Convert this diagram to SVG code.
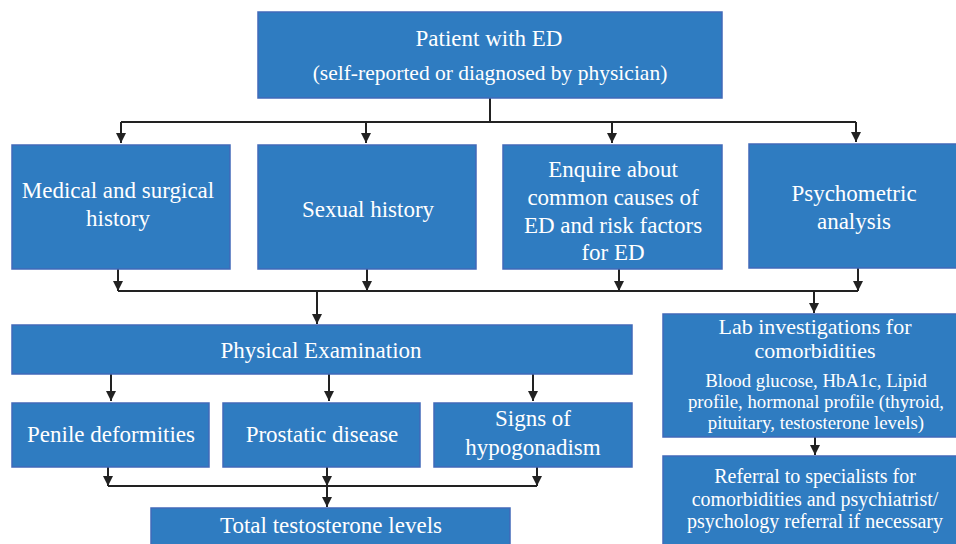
<svg xmlns="http://www.w3.org/2000/svg" width="956" height="544" viewBox="0 0 956 544" font-family="Liberation Serif, Times New Roman, serif">
<style>
.box{fill:#2f7cc1;stroke:#4169b9;stroke-width:1.5}
.t{fill:#ffffff;text-anchor:middle}
.l{font-size:23px}
.k{font-size:22px}
.m{font-size:21.5px}
.r{font-size:20px}
.s{font-size:18.8px}
.c{fill:none;stroke:#222222;stroke-width:2}
</style>
<defs>
<marker id="ah" viewBox="0 0 10 10" refX="10" refY="5" markerWidth="10" markerHeight="10" markerUnits="userSpaceOnUse" orient="auto">
<path d="M0,0 L10,5 L0,10 Z" fill="#222222"/>
</marker>
</defs>
<rect width="956" height="544" fill="#ffffff"/>
<g id="connectors">
<path class="c" d="M490,98 V122"/>
<path class="c" d="M121,122 H856"/>
<path class="c" d="M121,122 V143" marker-end="url(#ah)"/>
<path class="c" d="M366,122 V143" marker-end="url(#ah)"/>
<path class="c" d="M612,122 V143" marker-end="url(#ah)"/>
<path class="c" d="M856,122 V142" marker-end="url(#ah)"/>
<path class="c" d="M118,269 V291" marker-end="url(#ah)"/>
<path class="c" d="M367,269 V291" marker-end="url(#ah)"/>
<path class="c" d="M619,269 V291" marker-end="url(#ah)"/>
<path class="c" d="M858,268 V291" marker-end="url(#ah)"/>
<path class="c" d="M118,291 H858"/>
<path class="c" d="M317,291 V324" marker-end="url(#ah)"/>
<path class="c" d="M814,291 V313" marker-end="url(#ah)"/>
<path class="c" d="M111,374 V401" marker-end="url(#ah)"/>
<path class="c" d="M329,374 V401" marker-end="url(#ah)"/>
<path class="c" d="M533,374 V401" marker-end="url(#ah)"/>
<path class="c" d="M108,467 V486" marker-end="url(#ah)"/>
<path class="c" d="M327,467 V486" marker-end="url(#ah)"/>
<path class="c" d="M537,467 V486" marker-end="url(#ah)"/>
<path class="c" d="M108,486 H537"/>
<path class="c" d="M327,486 V507" marker-end="url(#ah)"/>
<path class="c" d="M815,437 V455" marker-end="url(#ah)"/>
</g>
<g id="patient">
<rect class="box" x="258" y="12" width="464" height="86"/>
<text class="t l" x="489" y="46">Patient with ED</text>
<text class="t m" x="490" y="80">(self-reported or diagnosed by physician)</text>
</g>
<g id="medical">
<rect class="box" x="12" y="145" width="218" height="124"/>
<text class="t l" x="118" y="198">Medical and surgical</text>
<text class="t l" x="118" y="226">history</text>
</g>
<g id="sexual">
<rect class="box" x="258" y="145" width="218" height="124"/>
<text class="t l" x="368" y="217">Sexual history</text>
</g>
<g id="enquire">
<rect class="box" x="503" y="145" width="219" height="124"/>
<text class="t l" x="613" y="177">Enquire about</text>
<text class="t l" x="613" y="205">common causes of</text>
<text class="t l" x="613" y="233">ED and risk factors</text>
<text class="t l" x="613" y="260">for ED</text>
</g>
<g id="psychometric">
<rect class="box" x="749" y="144" width="220" height="124"/>
<text class="t l" x="854" y="201">Psychometric</text>
<text class="t l" x="854" y="229">analysis</text>
</g>
<g id="physical">
<rect class="box" x="12" y="325" width="620" height="49"/>
<text class="t l" x="321" y="358">Physical Examination</text>
</g>
<g id="penile">
<rect class="box" x="12" y="403" width="197" height="64"/>
<text class="t l" x="111" y="442">Penile deformities</text>
</g>
<g id="prostatic">
<rect class="box" x="223" y="403" width="197" height="64"/>
<text class="t l" x="322" y="442">Prostatic disease</text>
</g>
<g id="hypogonadism">
<rect class="box" x="434" y="403" width="198" height="64"/>
<text class="t l" x="533" y="426">Signs of</text>
<text class="t l" x="533" y="455">hypogonadism</text>
</g>
<g id="testosterone">
<rect class="box" x="151" y="508" width="359" height="50"/>
<text class="t l" x="331" y="533">Total testosterone levels</text>
</g>
<g id="lab">
<rect class="box" x="663" y="314" width="310" height="123"/>
<text class="t k" x="815" y="333.5">Lab investigations for</text>
<text class="t k" x="815" y="358">comorbidities</text>
<text class="t s" x="816" y="386.5">Blood glucose, HbA1c, Lipid</text>
<text class="t s" x="816" y="407.5">profile, hormonal profile (thyroid,</text>
<text class="t s" x="816" y="428.5">pituitary, testosterone levels)</text>
</g>
<g id="referral">
<rect class="box" x="663" y="456" width="310" height="100"/>
<text class="t r" x="815" y="483">Referral to specialists for</text>
<text class="t r" x="815" y="505.5">comorbidities and psychiatrist/</text>
<text class="t r" x="815" y="528">psychology referral if necessary</text>
</g>
</svg>
